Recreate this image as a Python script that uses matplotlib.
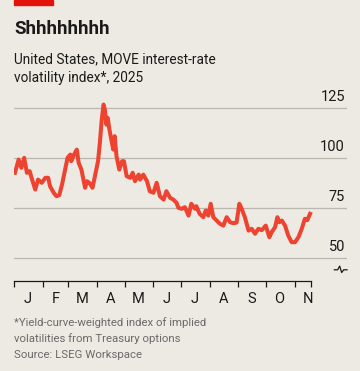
import numpy as np
import pandas as pd
import matplotlib
matplotlib.use("Agg")
import matplotlib.pyplot as plt
import matplotlib.dates as mdates
import matplotlib.transforms as mtransforms

# MOVE index (day offset from 1 Jan 2025, index value)
DAYS = [1, 5, 8, 11, 14, 17, 19, 23, 26, 30, 34, 37, 39, 43, 46, 49, 52, 55,
        58, 61, 62, 65, 68, 70, 73, 77, 79, 82, 85, 88, 91, 93, 95, 97, 98.5,
        100, 101.5, 103, 106, 107.5, 109, 111, 114, 117, 119, 122, 126, 128.5,
        131, 135, 136.5, 140, 144, 147, 151, 154.5, 158, 162, 165, 169, 172.5,
        176, 178, 181.6, 185, 189, 192, 196, 197.5, 201, 205, 207.6, 210.4,
        213, 215.8, 219.5, 223, 226.7, 230.3, 234, 237.5, 241, 244, 246.6,
        250, 254, 257.4, 261, 264.6, 268.3, 272.6, 276.5, 279, 282.7, 285.2,
        287.3, 290, 293.5, 297, 300.7, 304.3, 308, 311.6, 315, 317.6, 320.6]
MOVE = [92.7, 99.3, 95.2, 100.2, 92.7, 93.5, 90.2, 84.3, 89.3, 87.7, 90.2,
        90.2, 86.0, 82.7, 81.0, 81.5, 86.8, 93.5, 100.2, 101.8, 98.5, 101.8,
        104.3, 97.7, 94.3, 85.2, 88.5, 87.5, 85.2, 91.8, 98.5, 107.7, 119.3,
        126.8, 124.0, 116.8, 120.2, 115.2, 107.7, 104.3, 111.0, 101.0, 94.3,
        98.5, 98.5, 91.0, 90.2, 92.7, 88.5, 91.8, 89.3, 91.8, 88.5, 83.5,
        82.7, 87.7, 81.0, 79.3, 83.5, 80.2, 79.3, 77.7, 75.2, 74.7, 75.5,
        71.3, 77.2, 74.7, 76.0, 72.2, 70.5, 73.8, 71.3, 77.2, 70.5, 68.8,
        67.2, 66.3, 70.5, 68.0, 67.5, 67.8, 77.2, 74.7, 70.5, 63.8, 64.7,
        62.2, 64.7, 64.0, 66.3, 60.5, 63.0, 65.5, 70.5, 68.0, 68.8, 66.3,
        61.3, 58.0, 58.0, 60.5, 64.7, 69.7, 69.0, 72.2]
Y_TICKS = [50, 75, 100, 125]
MONTHS = ["J", "F", "M", "A", "M", "J", "J", "A", "S", "O", "N"]

BG = "#ECEAE2"
RED = "#EE4331"
GRID = "#B9B7AF"
INK = "#1A1A1A"
GREY = "#6A6A6A"
FONT = "Roboto"

start = pd.Timestamp("2025-01-01")
dates = start + pd.to_timedelta(DAYS, unit="D")
month_starts = pd.date_range("2025-01-01", "2025-11-01", freq="MS")
axis_end = start + pd.Timedelta(days=321.6)

fig = plt.figure(figsize=(3.6, 3.71), dpi=100, facecolor=BG)
ax = fig.add_axes([0.0389, 0.2426, 0.925, 0.5035], facecolor=BG)

ylab_tf = mtransforms.blended_transform_factory(ax.transAxes, ax.transData)
for v in Y_TICKS:
    ax.axhline(v, color=GRID, lw=0.9, zorder=1)
    ax.text(0.994, v + 2.2, str(v), transform=ylab_tf, ha="right", va="bottom",
            fontsize=10.5, color=INK, family=FONT)

ax.plot(dates, MOVE, color=RED, lw=2.9, solid_joinstyle="round", zorder=3)

ax.set_xlim(start, start + pd.Timedelta(days=360.6))
ax.set_ylim(38.6, 132)
ax.set_yticks([])
for s in ["left", "right", "top"]:
    ax.spines[s].set_visible(False)
ax.spines["bottom"].set_color(INK)
ax.spines["bottom"].set_linewidth(0.9)
ax.spines["bottom"].set_bounds(mdates.date2num(start), mdates.date2num(axis_end))

ax.set_xticks(list(month_starts) + [axis_end])
ax.set_xticklabels([])
ax.tick_params(axis="x", length=4.5, width=0.9, color=INK, direction="out")
mids = [m + pd.Timedelta(days=14.5) for m in month_starts]
ax.set_xticks(mids, minor=True)
ax.set_xticklabels(MONTHS, minor=True, fontsize=10.5, color=INK, family=FONT)
ax.tick_params(axis="x", which="minor", length=0, pad=8)

# axis-break squiggle below the 50 line
zx = np.array([0.962, 0.972, 0.978, 0.984, 0.990, 1.0])
zy = np.array([0.060, 0.060, 0.080, 0.045, 0.060, 0.060])
ax.plot(zx, zy, transform=ax.transAxes, color=INK, lw=0.9, clip_on=False)

# header
fig.patches.append(plt.Rectangle((14 / 360, 1 - 5 / 371), 39 / 360, 5 / 371,
                                 transform=fig.transFigure, color="#E3120B"))
fig.text(14 / 360, 1 - 34 / 371, "Shhhhhhhh", fontsize=13.5, fontweight="bold",
         color=INK, family=FONT, va="baseline")
fig.text(14 / 360, 1 - 63 / 371, "United States, MOVE interest-rate", fontsize=9.8,
         color=INK, family=FONT, va="baseline")
fig.text(14 / 360, 1 - 82 / 371, "volatility index*, 2025", fontsize=9.8,
         color=INK, family=FONT, va="baseline")

# footnote
notes = ["*Yield-curve-weighted index of implied",
         "volatilities from Treasury options",
         "Source: LSEG Workspace"]
for i, line in enumerate(notes):
    fig.text(14 / 360, 1 - (326 + i * 16) / 371, line, fontsize=8.2, color=GREY,
             family=FONT, va="baseline")

fig.savefig("out.png", dpi=100, facecolor=BG)
